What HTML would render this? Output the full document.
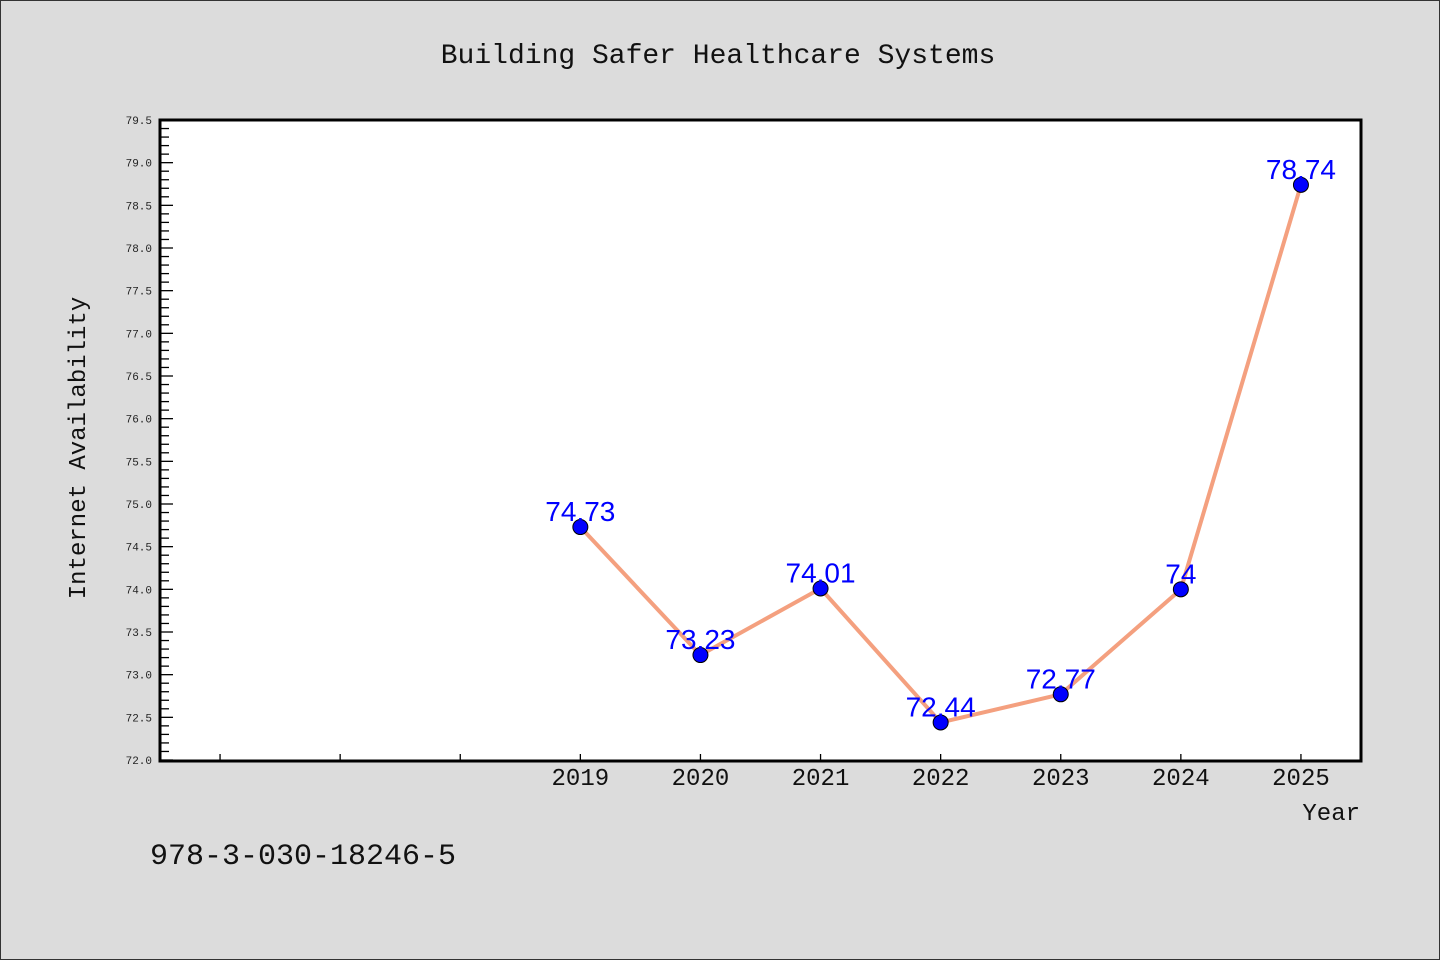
<!DOCTYPE html>
<html><head><meta charset="utf-8"><style>
body{margin:0;background:#dcdcdc;}
svg{display:block;font-family:"Liberation Mono","DejaVu Sans Mono","Noto Sans CJK SC",monospace;}
</style></head><body>
<svg id="chart" width="1440" height="960" xmlns="http://www.w3.org/2000/svg">
<rect x="0.5" y="0.5" width="1439" height="959" fill="#dcdcdc" stroke="#333"/>
<text x="718" y="63" font-size="28" text-anchor="middle" fill="#111">Building Safer Healthcare Systems</text>
<rect x="160" y="120" width="1201" height="641" fill="#fff" stroke="#000" stroke-width="3"/>
<g id="yticks"></g><g id="xticks"></g>
<text transform="translate(85,448) rotate(-90)" font-size="24" text-anchor="middle" fill="#111">Internet Availability</text>
<text x="1360" y="820" font-size="24" text-anchor="end" fill="#111">Year</text>
<text x="150" y="864" font-size="30" fill="#111">978-3-030-18246-5</text>
<g id="series"></g>
</svg>
<script>
const years=[2019,2020,2021,2022,2023,2024,2025];
const values=[74.73,73.23,74.01,72.44,72.77,74,78.74];
const labels=["74.73","73.23","74.01","72.44","72.77","74","78.74"];
const yMin=72.0,yMax=79.5;
const xMin=2015.5,xMax=2025.5;
const L=160,R=1361,T=120,B=760;
const NS="http://www.w3.org/2000/svg";
function xs(v){return L+(v-xMin)/(xMax-xMin)*(R-L);}
function ys(v){return B-(v-yMin)/(yMax-yMin)*(B-T);}
function mk(tag,attrs,parent){const e=document.createElementNS(NS,tag);for(const k in attrs)e.setAttribute(k,attrs[k]);parent.appendChild(e);return e;}
const yt=document.getElementById('yticks');
for(let i=0;i<=75;i++){
  const v=yMin+i*0.1;const y=ys(v);const major=i%5===0;
  const t=mk('line',{x1:L,x2:L+(major?13:9),y1:y,y2:y,stroke:'#000','stroke-width':1.3},yt);
  
  
  if(major){const tx=mk('text',{x:152,y:y+4,'font-size':11,'text-anchor':'end',fill:'#222'},yt);tx.textContent=v.toFixed(1);
  
  }
}
const xt=document.getElementById('xticks');
for(let yr=2016;yr<=2025;yr++){
  const x=xs(yr);
  const t=mk('line',{x1:x,x2:x,y1:B,y2:B-6,stroke:'#000','stroke-width':1.3},xt);
  
  
}
years.forEach(yr=>{const tx=mk('text',{x:xs(yr),y:785,'font-size':24,'text-anchor':'middle',fill:'#111'},xt);tx.textContent=yr;
  
  });
const s=document.getElementById('series');
const pts=years.map((yr,i)=>xs(yr)+','+ys(values[i])).join(' ');
const pl=mk('polyline',{points:pts,fill:'none',stroke:'#f4a07f','stroke-width':4,'stroke-linejoin':'round'},s);


years.forEach((yr,i)=>{
  const c=mk('circle',{cx:xs(yr),cy:ys(values[i]),r:7.5,fill:'#0000ff',stroke:'#000','stroke-width':1},s);
  
  
  const tx=mk('text',{x:xs(yr),y:ys(values[i])-6,'font-size':28,'text-anchor':'middle',fill:'#0000ff','font-family':'"Liberation Sans",sans-serif'},s);
  tx.textContent=labels[i];
  
  
});
</script>
</body></html>
